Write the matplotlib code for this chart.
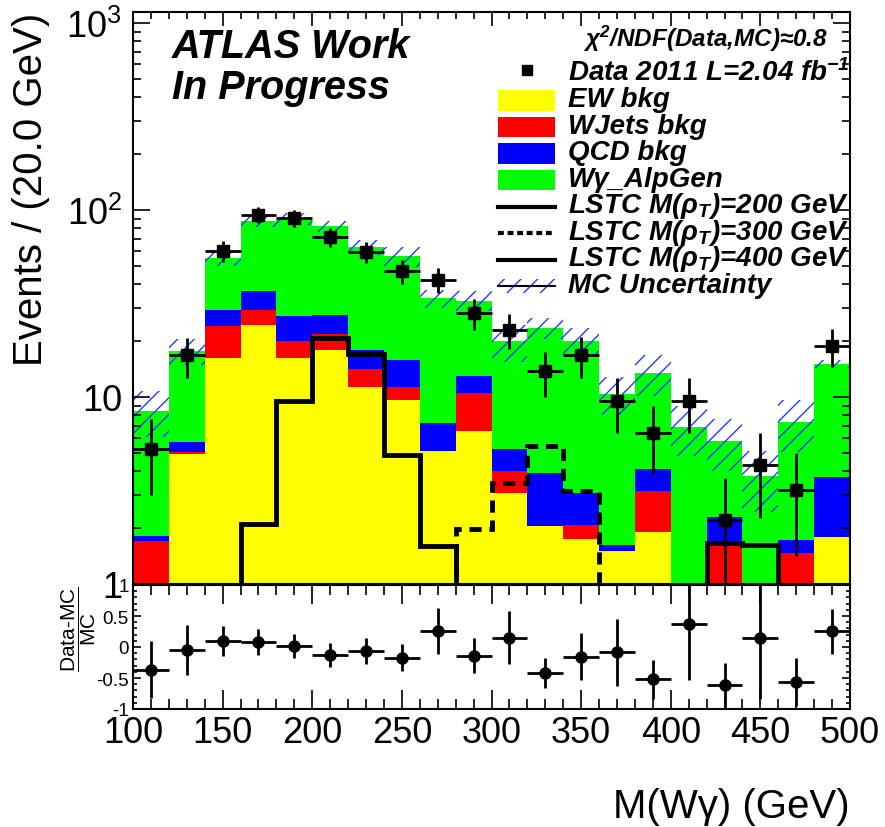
import numpy as np
import matplotlib
matplotlib.use('Agg')
import matplotlib.pyplot as plt
from matplotlib.patches import Rectangle
from matplotlib.lines import Line2D
from matplotlib.ticker import FixedLocator, FuncFormatter, MultipleLocator, LogLocator, NullFormatter

plt.rcParams['font.family'] = ['Liberation Sans', 'DejaVu Sans']
plt.rcParams['mathtext.default'] = 'regular'
plt.rcParams['axes.unicode_minus'] = False
plt.rcParams['hatch.linewidth'] = 1.0

# binning: 100-500 GeV in 20 GeV bins
edges = np.arange(100, 520, 20)
centers = edges[:-1] + 10

# stacked backgrounds (events per bin)
ew_bkg = [0.0, 4.96, 16.2, 24.2, 16.2, 17.9, 11.3, 9.68, 5.12, 6.55,
          3.07, 2.03, 1.73, 1.50, 1.90, 0.0, 0.0, 0.0, 0.0, 1.78]
wjets_bkg = [1.70, 0.10, 7.9, 5.0, 3.7, 3.8, 2.8, 1.62, 0.0, 3.95,
             0.93, 0.0, 0.35, 0.0, 1.25, 0.0, 1.62, 0.0, 1.47, 0.0]
qcd_bkg = [0.11, 0.69, 5.1, 7.5, 7.3, 5.8, 3.8, 4.5, 2.14, 2.4,
           1.29, 1.89, 0.99, 0.12, 0.97, 0.0, 0.65, 0.0, 0.24, 1.94]
wgamma_alpgen = [6.61, 11.8, 26.2, 51.0, 62.6, 54.3, 45.3, 40.8, 26.5, 19.8,
                 14.6, 19.5, 16.8, 8.78, 9.28, 6.91, 3.53, 3.79, 5.64, 11.3]
# MC uncertainty (absolute, +/-)
mc_unc = [2.3, 2.8, 5.0, 7.0, 7.0, 6.0, 6.0, 7.0, 3.8, 4.0,
          4.5, 3.0, 3.4, 2.4, 3.3, 2.05, 1.8, 1.35, 2.3, 0.8]

data = [5.3, 16.7, 60.6, 94.4, 91.0, 71.5, 59.6, 47.0, 42.4, 28.1,
        22.9, 13.7, 16.8, 9.5, 6.4, 9.5, 2.2, 4.35, 3.2, 18.8]
ratio_err = [0.46, 0.40, 0.245, 0.21, 0.19, 0.19, 0.21, 0.22, 0.37, 0.28,
             0.43, 0.245, 0.375, 0.535, 0.31, 0.91, 0.37, 0.99, 0.39, 0.36]

# LSTC signals
lstc_200 = [0, 0, 0, 2.1, 9.5, 20.7, 17.0, 4.9, 1.6, 0,
            0, 0, 0, 0, 0, 0, 0, 0, 0, 0]
lstc_300 = [0, 0, 0, 0, 0, 0, 0, 0, 0, 1.97,
            3.47, 5.45, 3.13, 0, 0, 0, 0, 0, 0, 0]
lstc_400 = [0, 0, 0, 0, 0, 0, 0, 0, 0, 0,
            0, 0, 0, 0, 0, 0, 1.66, 1.62, 0, 0]

c_ew = np.array(ew_bkg)
c_wj = c_ew + np.array(wjets_bkg)
c_qcd = c_wj + np.array(qcd_bkg)
c_tot = c_qcd + np.array(wgamma_alpgen)
data = np.array(data)

fig = plt.figure(figsize=(8.85, 8.28), dpi=100)
ax1 = fig.add_axes([133/885, 1-585/828, 717/885, 572/828])
ax2 = fig.add_axes([133/885, 1-710/828, 717/885, 124/828])

base = 0.1
for cum, col in [(c_tot, '#00ff00'), (c_qcd, '#0000ff'), (c_wj, '#ff0000'), (c_ew, '#ffff00')]:
    ax1.stairs(np.clip(cum, base, None), edges, baseline=base, fill=True, color=col, lw=0)

# MC uncertainty band
ax1.bar(centers, 2*np.array(mc_unc), bottom=c_tot-np.array(mc_unc), width=20,
        facecolor='none', edgecolor='#1e3cff', hatch='//', linewidth=0)

# signals
ax1.stairs(np.clip(lstc_200, base, None), edges, baseline=base, color='k', lw=3.5)
ax1.stairs(np.clip(lstc_300, base, None), edges, baseline=base, color='k', lw=3.5, ls=(0, (2.5, 1.6)))
ax1.stairs(np.clip(lstc_400, base, None), edges, baseline=base, color='k', lw=3.5)

ax1.errorbar(centers, data, xerr=10, yerr=np.sqrt(data), fmt='s', color='k',
             ms=8.5, elinewidth=2, capsize=0, zorder=5)

ax1.set_xlim(100, 500)
ax1.set_yscale('log')
ax1.set_ylim(1, 1145)
ax1.yaxis.set_major_locator(FixedLocator([1, 10, 100, 1000]))
ax1.yaxis.set_minor_locator(LogLocator(base=10, subs=np.arange(2, 10)))
ax1.yaxis.set_minor_formatter(NullFormatter())
ylab = {1: '1', 10: '10', 100: '$10^{2}$', 1000: '$10^{3}$'}
ax1.yaxis.set_major_formatter(FuncFormatter(lambda v, p: ylab.get(int(round(v)), '')))
ax1.xaxis.set_major_locator(MultipleLocator(50))
ax1.xaxis.set_minor_locator(MultipleLocator(10))
ax1.tick_params(which='both', direction='in', top=True, right=True, bottom=False,
                labelbottom=False, width=1.2)
ax1.tick_params(axis='y', which='major', length=12, labelsize=26, pad=8)
ax1.tick_params(axis='y', which='minor', length=6)
ax1.tick_params(axis='x', which='major', length=10)
ax1.tick_params(axis='x', which='minor', length=5)
ax1.set_ylabel('Events / (20.0 GeV)', fontsize=29, loc='top')
ax1.yaxis.set_label_coords(-0.116, 1.0)

# ratio panel
ratio = data / c_tot - 1
ax2.errorbar(centers, ratio, xerr=10, yerr=ratio_err, fmt='o', color='k',
             ms=8, elinewidth=2, capsize=0)
ax2.set_xlim(100, 500)
ax2.set_ylim(-1, 1)
ax2.xaxis.set_major_locator(MultipleLocator(50))
ax2.xaxis.set_minor_locator(MultipleLocator(10))
ax2.yaxis.set_major_locator(MultipleLocator(0.5))
ax2.yaxis.set_minor_locator(MultipleLocator(0.1))
ax2.yaxis.set_major_formatter(FuncFormatter(lambda v, p: f'{round(v, 2) + 0:g}'))
ax2.tick_params(which='both', direction='in', top=True, right=True, width=1.2)
ax2.tick_params(axis='x', which='major', length=14, labelsize=26, pad=4)
ax2.tick_params(axis='x', which='minor', length=7)
ax2.tick_params(axis='y', which='major', length=6, labelsize=13.5, pad=3)
ax2.tick_params(axis='y', which='minor', length=3)
ax2.set_xlabel('M(Wγ) (GeV)', fontsize=29, loc='right')
ax2.xaxis.set_label_coords(1.0, -0.63)
ax2.text(-0.075, 0.995, '$\\dfrac{Data\u2010MC}{MC}$', transform=ax2.transAxes,
         rotation=90, ha='center', va='top', fontsize=15)

for ax in (ax1, ax2):
    for s in ax.spines.values():
        s.set_linewidth(1.5)

# labels
bi = dict(fontweight='bold', fontstyle='italic')
ax1.text(0.054, 0.921, 'ATLAS Work', transform=ax1.transAxes, fontsize=28.5, **bi)
ax1.text(0.054, 0.850, 'In Progress', transform=ax1.transAxes, fontsize=28.5, **bi)
ax1.text(0.97, 0.940, 'χ$^{2}$/NDF(Data,MC)≈0.8', transform=ax1.transAxes,
         ha='right', fontsize=17.5, **bi)

# legend drawn by hand to mimic the ROOT layout
entries = [('data', 'Data 2011 L=2.04 fb$^{-1}$'),
           ('#ffff00', 'EW bkg'),
           ('#ff0000', 'WJets bkg'),
           ('#0000ff', 'QCD bkg'),
           ('#00ff00', 'Wγ_AlpGen'),
           ('solid', 'LSTC M(ρ$_{T}$)=200 GeV'),
           ('dashed', 'LSTC M(ρ$_{T}$)=300 GeV'),
           ('solid', 'LSTC M(ρ$_{T}$)=400 GeV'),
           ('hatch', 'MC Uncertainty')]
hx0, hx1, tx = (498-133)/717, (555-133)/717, (568-133)/717
for i, (kind, label) in enumerate(entries):
    yb = (585 - (81 + 26.5*i)) / 572
    yc = yb + 6/572
    if kind == 'data':
        ax1.add_line(Line2D([(hx0+hx1)/2], [yc + 4/572], marker='s', ms=7, color='k',
                            transform=ax1.transAxes, clip_on=False))
    elif kind.startswith('#'):
        ax1.add_patch(Rectangle((hx0, yc-10/572), hx1-hx0, 20/572, facecolor=kind,
                                lw=0, transform=ax1.transAxes, clip_on=False))
    elif kind in ('solid', 'dashed'):
        ls = '-' if kind == 'solid' else (0, (1.4, 0.9))
        ax1.add_line(Line2D([hx0, hx1], [yc, yc], color='k', lw=3, ls=ls,
                            transform=ax1.transAxes, clip_on=False))
    else:
        ax1.add_patch(Rectangle((hx0, yc-7/572), hx1-hx0, 14/572, facecolor='none',
                                edgecolor='#1e3cff', hatch='//', lw=0,
                                transform=ax1.transAxes, clip_on=False))
        ax1.add_line(Line2D([hx0, hx1], [yc, yc], color='k', lw=1.5,
                            transform=ax1.transAxes, clip_on=False))
    ax1.text(tx, yb, label, transform=ax1.transAxes, fontsize=20, va='baseline',
             clip_on=False, **bi)

fig.savefig('out.png', dpi=100)
